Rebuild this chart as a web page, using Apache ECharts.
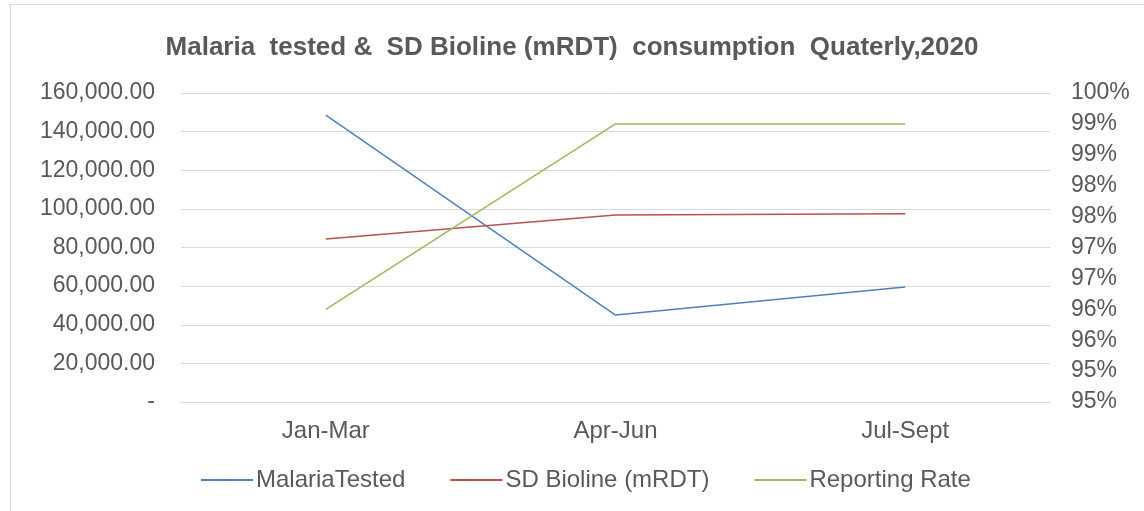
<!DOCTYPE html>
<html>
<head>
<meta charset="utf-8">
<style>
  html, body { margin: 0; padding: 0; background: #fff; }
  #frame { position: absolute; left: 10px; top: 4px; width: 1140px; height: 510px; border: 1px solid #d9d9d9; box-sizing: border-box; }
  #chart { position: absolute; left: 0; top: 0; width: 1144px; height: 511px; }
</style>
<script src="https://cdn.jsdelivr.net/npm/echarts@6/dist/echarts.min.js"></script>
</head>
<body>
<div id="frame"></div>
<div id="chart"></div>
<script>
// quarters
const quarters = ['Jan-Mar', 'Apr-Jun', 'Jul-Sept'];
// series values
const malariaTested = [148600, 45000, 59500];
const sdBioline = [84400, 96800, 97500];
const reportingRate = [0.965, 0.995, 0.995];
// right axis labels as Excel showed them (0.5% steps, rounded)
const rateTickLabels = ['95%', '95%', '96%', '96%', '97%', '97%', '98%', '98%', '99%', '99%', '100%'];

const textColor = '#595959';
const chart = echarts.init(document.getElementById('chart'));

const fmtNumber = v => {
  if (v === 0) return '-';
  return v.toLocaleString('en-US', { minimumFractionDigits: 2, maximumFractionDigits: 2 });
};

chart.setOption({
  animation: false,
  textStyle: { fontFamily: 'Liberation Sans, Arial, sans-serif' },
  title: {
    text: 'Malaria  tested &  SD Bioline (mRDT)  consumption  Quaterly,2020',
    left: 'center',
    top: 30,
    textStyle: { color: textColor, fontSize: 26, fontWeight: 'bold' }
  },
  legend: {
    bottom: 14,
    left: 195,
    itemWidth: 52,
    itemHeight: 2,
    itemGap: 44,
    textStyle: { color: textColor, fontSize: 24, padding: [0, 0, 0, -2] },
    data: ['MalariaTested', 'SD Bioline (mRDT)', 'Reporting Rate']
  },
  grid: { left: 181, right: 94, top: 93, bottom: 109 },
  xAxis: {
    type: 'category',
    data: quarters,
    boundaryGap: true,
    axisLine: { lineStyle: { color: '#d9d9d9' } },
    axisTick: { show: false },
    axisLabel: { color: textColor, fontSize: 24, margin: 17 }
  },
  yAxis: [
    {
      type: 'value',
      min: 0,
      max: 160000,
      interval: 20000,
      axisLine: { show: false },
      axisTick: { show: false },
      splitLine: { lineStyle: { color: '#d9d9d9', width: 1 } },
      axisLabel: { color: textColor, fontSize: 23, margin: 26, formatter: fmtNumber }
    },
    {
      type: 'value',
      min: 0.95,
      max: 1.0,
      interval: 0.005,
      axisLine: { show: false },
      axisTick: { show: false },
      splitLine: { show: false },
      axisLabel: {
        color: textColor,
        fontSize: 23,
        margin: 21,
        formatter: v => rateTickLabels[Math.round((v - 0.95) / 0.005)]
      }
    }
  ],
  series: [
    {
      name: 'MalariaTested',
      type: 'line',
      data: malariaTested,
      symbol: 'none',
      lineStyle: { color: '#4F81BD', width: 1.5 },
      itemStyle: { color: '#4F81BD' }
    },
    {
      name: 'SD Bioline (mRDT)',
      type: 'line',
      data: sdBioline,
      symbol: 'none',
      lineStyle: { color: '#C0504D', width: 1.5 },
      itemStyle: { color: '#C0504D' }
    },
    {
      name: 'Reporting Rate',
      type: 'line',
      yAxisIndex: 1,
      data: reportingRate,
      symbol: 'none',
      lineStyle: { color: '#9BBB59', width: 1.5 },
      itemStyle: { color: '#9BBB59' }
    }
  ]
});
</script>
</body>
</html>
